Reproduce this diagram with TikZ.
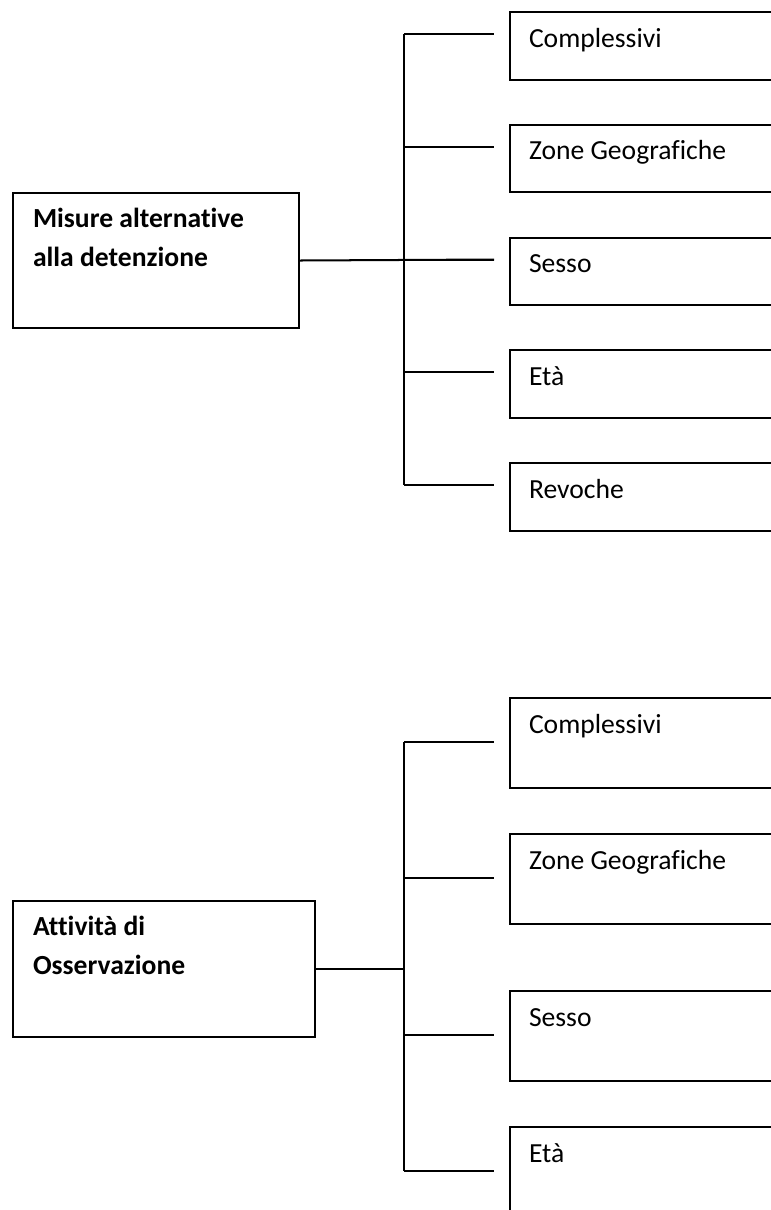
\documentclass[tikz,border=0pt]{standalone}
\usepackage{fontspec}
\setmainfont{Carlito}[Ligatures=NoCommon]
\usepackage{tikz}
\usetikzlibrary{positioning, calc}

\begin{document}
\begin{tikzpicture}[line width=0.8pt]
	\tikzstyle{mainbox}=[draw=black, anchor=north west, inner xsep=0.28cm, inner ysep=0pt, align=flush left, font={\bfseries\fontsize{11pt}{15.9pt}\selectfont}, text height=0.476cm]
	\tikzstyle{itembox}=[draw=black, anchor=north west, inner xsep=0.266cm, inner ysep=0pt, text width=3.668cm, align=flush left, font={\fontsize{11pt}{13pt}\selectfont}, text height=0.49cm]

	\useasboundingbox (0,0) rectangle (10.794cm, -16.94cm);
	\clip (0,0) rectangle (10.794cm, -16.94cm);

	% first tree
	\node[mainbox, text width=3.444cm, text depth=1.414cm] (misure) at (0.168cm, -2.688cm) {Misure alternative\\alla detenzione};
	\coordinate (trunk-top) at (5.656cm, 0cm);

	\foreach \lbl [count=\i] in {Complessivi, Zone Geografiche, Sesso, Età, Revoche}{
		\node[itembox, text depth=0.455cm] (top-item\i) at (7.126cm, -0.154cm - 1.5785cm * \i + 1.5785cm) {\lbl};
		\coordinate (top-end\i) at ($(top-item\i.north west) + (-0.21cm, -0.322cm)$);
		\draw (top-end\i -| trunk-top) -- (top-end\i);
	}

	\draw (top-end1 -| trunk-top) -- (top-end5 -| trunk-top);
	\draw (misure.east) -- (top-end3);

	% second tree
	\node[mainbox, text width=3.668cm, text depth=1.421cm] (attivita) at (0.168cm, -12.6cm) {Attività di\\Osservazione};
	\coordinate (trunk-bot) at (5.656cm, 0cm);

	\foreach \lbl/\ytop [count=\i] in {Complessivi/-9.758, Zone Geografiche/-11.662, Sesso/-13.86, Età/-15.764}{
		\node[itembox, text depth=0.77cm] (bot-item\i) at (7.126cm, \ytop cm) {\lbl};
		\coordinate (bot-end\i) at ($(bot-item\i.north west) + (-0.21cm, -0.63cm)$);
		\draw (bot-end\i -| trunk-bot) -- (bot-end\i);
	}

	\draw (bot-end1 -| trunk-bot) -- (bot-end4 -| trunk-bot);
	\draw (attivita.east) -- (attivita.east -| trunk-bot);
\end{tikzpicture}
\end{document}
